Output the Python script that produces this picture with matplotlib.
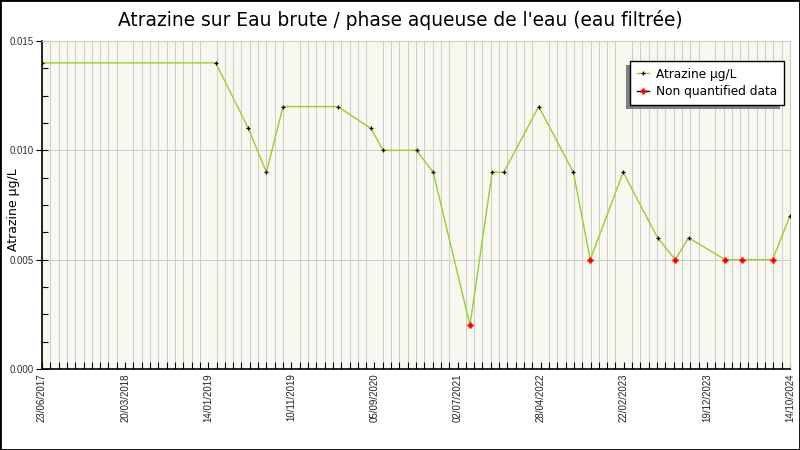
import numpy as np
import pandas as pd
import matplotlib
matplotlib.use("Agg")
import matplotlib.pyplot as plt
from matplotlib.lines import Line2D
from matplotlib.patches import Rectangle

# sampling dates and atrazine values (µg/L)
dates = ["24/05/2017", "10/02/2019", "08/06/2019", "12/08/2019", "11/10/2019",
         "26/04/2020", "24/08/2020", "06/10/2020", "04/02/2021", "05/04/2021",
         "16/08/2021", "04/11/2021", "16/12/2021", "21/04/2022", "24/08/2022",
         "24/10/2022", "20/02/2023", "24/06/2023", "27/08/2023", "14/10/2023",
         "23/02/2024", "25/04/2024", "12/08/2024", "14/10/2024"]
values = [0.014, 0.014, 0.011, 0.009, 0.012, 0.012, 0.011, 0.010, 0.010, 0.009,
          0.002, 0.009, 0.009, 0.012, 0.009, 0.005, 0.009, 0.006, 0.005, 0.006,
          0.005, 0.005, 0.005, 0.007]
# points flagged as non quantified
non_quantified = [False, False, False, False, False, False, False, False, False, False,
                  True, False, False, False, False, True, False, False, True, False,
                  True, True, True, False]

tick_labels = ["23/06/2017", "20/03/2018", "14/01/2019", "10/11/2019", "05/09/2020",
               "02/07/2021", "28/04/2022", "22/02/2023", "19/12/2023", "14/10/2024"]

title = "Atrazine sur Eau brute / phase aqueuse de l'eau (eau filtrée)"
ylabel = "Atrazine µg/L"

d = pd.to_datetime(dates, format="%d/%m/%Y")
start = d[0]
x = np.array((d - start).days, dtype=float)
y = np.array(values)
nq = np.array(non_quantified)

span = 300 * (len(tick_labels) - 1)

fig = plt.figure(figsize=(8, 4.5), dpi=100)
fig.patch.set_facecolor("white")
ax = fig.add_axes([42 / 800, 1 - 369 / 450, 748 / 800, 328 / 450])
ax.set_facecolor("#f8f8f0")

ax.plot(x, y, color="#9acd32", lw=1.0, zorder=3)
ax.plot(x[~nq], y[~nq], ls="none", marker="+", ms=3, mew=0.9, color="black", zorder=4)
ax.plot(x[nq], y[nq], ls="none", marker="+", ms=4, mew=1.8, color="red", zorder=4)

ax.set_xlim(0, span)
ax.set_ylim(0, 0.015)

ax.set_xticks(np.arange(0, span + 1, 300))
ax.set_xticklabels(tick_labels, rotation=90, fontsize=7, family="Liberation Sans", color="#222222")
ax.set_xticks(np.arange(0, span + 1, 30), minor=True)
ax.set_yticks([0, 0.005, 0.010, 0.015])
ax.set_yticklabels(["0.000", "0.005", "0.010", "0.015"], fontsize=7, family="Liberation Sans", color="#333333")
ax.set_yticks(np.arange(0, 0.0151, 0.00125), minor=True)

ax.tick_params(axis="x", which="both", direction="in", length=5, width=0.8, pad=3)
ax.tick_params(axis="y", which="major", direction="inout", length=8, width=0.8, pad=2)
ax.tick_params(axis="y", which="minor", direction="in", length=4, width=0.8)

ax.grid(True, axis="x", which="minor", color="#cccccc", lw=0.72)
ax.grid(True, axis="y", which="major", color="#cccccc", lw=0.72)
ax.set_axisbelow(True)

for side in ["top", "right"]:
    ax.spines[side].set_color("#cccccc")
for side in ["left", "bottom"]:
    ax.spines[side].set_color("black")
    ax.spines[side].set_linewidth(1.2)

fig.text(14 / 800, 1 - 210 / 450, ylabel, rotation=90, ha="center", va="center",
         fontsize=9, family="DejaVu Sans")
fig.text(0.5, 1 - 20 / 450, title, ha="center", va="center", fontsize=13.4, family="DejaVu Sans")

handles = [
    Line2D([], [], color="#9acd32", lw=1, marker="+", ms=3, mew=0.9, mec="black"),
    Line2D([], [], color="black", lw=1, marker="+", ms=4, mew=1.8, mec="red"),
]
leg = ax.legend(handles, ["Atrazine µg/L", "Non quantified data"],
                loc="upper right", bbox_to_anchor=(784 / 800, 1 - 61 / 450),
                bbox_transform=fig.transFigure, fancybox=False, framealpha=1,
                edgecolor="black", handlelength=1.0, handletextpad=0.6,
                borderpad=0.55, labelspacing=0.35, borderaxespad=0,
                prop={"family": "DejaVu Sans", "size": 8.7})
leg.get_frame().set_linewidth(1)
leg.set_zorder(6)

fig.canvas.draw()
bb = leg.get_frame().get_window_extent(fig.canvas.get_renderer())
ax.add_patch(Rectangle((bb.x0 - 4, bb.y0 - 4), bb.width, bb.height, transform=None,
                       facecolor="#808080", edgecolor="none", zorder=5, clip_on=False))

fig.add_artist(Rectangle((0, 0), 1, 1, transform=fig.transFigure, fill=False,
                         edgecolor="black", lw=2, zorder=10))

fig.savefig("out.png", dpi=100)
